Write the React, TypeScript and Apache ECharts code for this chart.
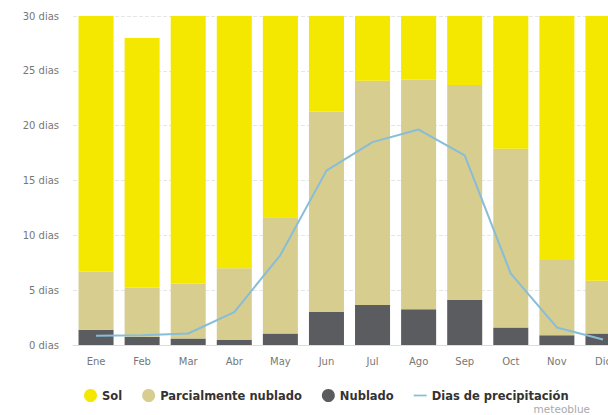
import React, { useEffect, useRef } from "react";
import * as echarts from "echarts";

const months = ["Ene", "Feb", "Mar", "Abr", "May", "Jun", "Jul", "Ago", "Sep", "Oct", "Nov", "Dic"];
const nublado = [1.4, 0.75, 0.6, 0.45, 1.05, 3.0, 3.65, 3.25, 4.1, 1.6, 0.9, 1.05];
const parcial = [5.3, 4.5, 5.0, 6.55, 10.6, 18.3, 20.45, 20.95, 19.6, 16.3, 6.85, 4.8];
const sol = [24.3, 22.75, 25.4, 23.0, 19.35, 8.7, 6.9, 6.8, 6.3, 13.1, 22.25, 25.15];
const precipitacion = [0.85, 0.9, 1.05, 3.0, 8.2, 15.9, 18.5, 19.65, 17.3, 6.5, 1.6, 0.5];
const yTicks = [0, 5, 10, 15, 20, 25, 30];

const FONT = "DejaVu Sans";

export default function App() {
  const ref = useRef<HTMLDivElement>(null);
  useEffect(() => {
    if (!ref.current) return;
    const chart = echarts.init(ref.current, undefined, { renderer: "svg" });
    const barBase = {
      type: "bar" as const,
      stack: "dias",
      barCategoryGap: "24%",
      clip: true,
      emphasis: { disabled: true },
    };
    chart.setOption({
      animation: false,
      textStyle: { fontFamily: FONT },
      grid: { left: 73, right: 0, top: 16, bottom: 70 },
      legend: {
        left: 79,
        top: 384,
        itemWidth: 13,
        itemHeight: 13,
        itemGap: 20,
        selectedMode: false,
        textStyle: { fontFamily: FONT, fontWeight: "bold", fontSize: 11.5, color: "#333" },
        data: [
          { name: "Sol", icon: "circle" },
          { name: "Parcialmente nublado", icon: "circle" },
          { name: "Nublado", icon: "circle" },
          { name: "Dias de precipitación", icon: "path://M0,5.2 L12,5.2 L12,6.8 L0,6.8 Z" },
        ],
      },
      xAxis: {
        type: "category",
        data: months,
        axisLine: { lineStyle: { color: "#dcdcdc" } },
        axisTick: { show: false },
        axisLabel: { color: "#777", fontSize: 10, margin: 11, fontFamily: FONT },
      },
      yAxis: {
        type: "value",
        min: yTicks[0],
        max: yTicks[yTicks.length - 1],
        interval: 5,
        axisLabel: {
          color: "#777",
          fontSize: 10,
          margin: 14,
          fontFamily: FONT,
          formatter: (v: number) => `${v} dias`,
        },
        splitLine: { lineStyle: { color: "#e6e6e6", type: "dashed" } },
        axisLine: { show: false },
        axisTick: { show: false },
      },
      series: [
        {
          ...barBase,
          name: "Nublado",
          data: nublado,
          itemStyle: { color: "#5b5c5f" },
        },
        {
          ...barBase,
          name: "Parcialmente nublado",
          data: parcial,
          itemStyle: { color: "#d6cd8f" },
        },
        {
          ...barBase,
          name: "Sol",
          data: sol,
          itemStyle: { color: "#f4e700" },
        },
        {
          type: "line",
          name: "Dias de precipitación",
          data: precipitacion,
          smooth: false,
          symbol: "none",
          z: 5,
          lineStyle: { color: "#88bdd9", width: 2 },
          itemStyle: { color: "#88bdd9" },
          emphasis: { disabled: true },
        },
      ],
      graphic: [
        {
          type: "text",
          right: 36,
          top: 403,
          style: { text: "meteoblue", font: `10.5px ${FONT}`, fill: "#aaa" },
        },
      ],
    });
    return () => chart.dispose();
  }, []);
  return (
    <div style={{ position: "absolute", left: 0, top: 0, width: 608, height: 415, overflow: "hidden" }}>
      <div ref={ref} style={{ width: 626, height: 415 }} />
    </div>
  );
}
